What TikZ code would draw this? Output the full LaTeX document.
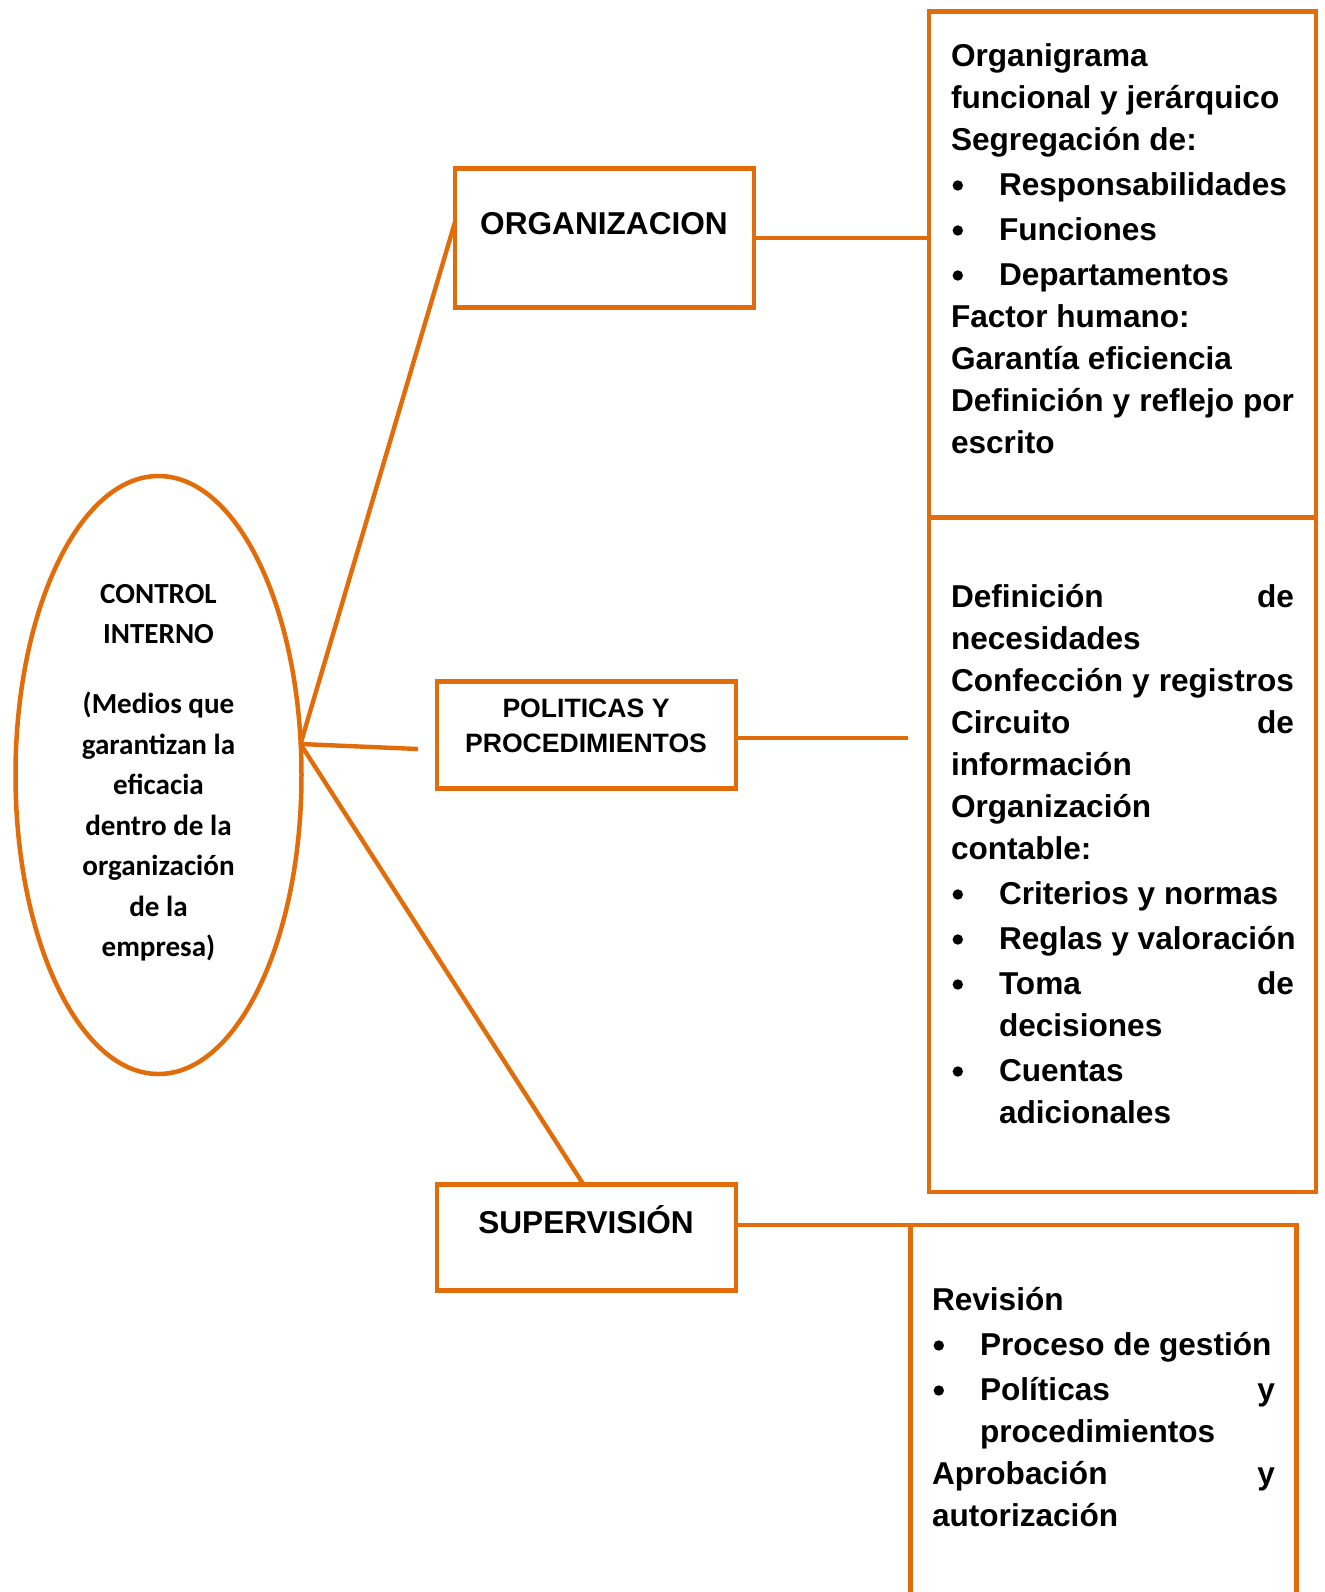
\documentclass[tikz,border=0pt]{standalone}
\usepackage{fontspec}
\setmainfont{Liberation Sans}
\newfontfamily\calibrifont{Carlito}
\usetikzlibrary{shapes.geometric}
\definecolor{orng}{RGB}{227,108,10}
\newlength\rtw \setlength\rtw{171.5pt}
\newlength\rtwb \setlength\rtwb{147.5pt}
\newcommand\plainln[1]{\makebox[\rtw][l]{#1}}
\newcommand\justln[1]{\makebox[\rtw][s]{#1}}
\newcommand\bulmark{\makebox[24pt][l]{\hspace{0.8pt}\tikz[baseline=-4.75pt]{\fill[black] (0,0) circle (2.6pt);}}}
\newcommand\bulln[1]{\bulmark\makebox[\rtwb][l]{#1}}
\newcommand\bulj[1]{\bulmark\makebox[\rtwb][s]{#1}}
\newcommand\contln[1]{\hspace*{24pt}\makebox[\rtwb][l]{#1}}
\newcommand\rtfont{\fontsize{15.8}{21}\selectfont\bfseries}
\begin{document}
\begin{tikzpicture}[x=0.5pt,y=-0.5pt,
  every node/.style={inner sep=0pt,outer sep=0pt},
  boxst/.style={draw=orng,line width=2.25pt,rectangle},
  link/.style={draw=orng,line width=2.2pt},
  lblfont/.style={font=\fontsize{15.8}{19}\selectfont\bfseries,anchor=base},
  smallfont/.style={font=\fontsize{13.3}{16}\selectfont\bfseries,anchor=base},
  rtext/.style={anchor=base west}]
\useasboundingbox (0,0) rectangle (1325,1592);
\clip (0,0) rectangle (1325,1592);
% ellipse
\node[draw=orng,line width=2.25pt,ellipse,minimum width=143pt,minimum height=299pt] (ci) at (158.5,775) {};
\node[anchor=base] (citext) at (158.5,603) {\parbox[t]{110pt}{\centering\calibrifont\fontsize{14.55}{20.25}\selectfont\bfseries
CONTROL\\INTERNO\\[14.75pt](Medios que\\garantizan la\\eficacia\\dentro de la\\organización\\de la\\empresa)}};
\coordinate (hub) at (300.5,744);
% middle boxes
\node[boxst,minimum width=149.5pt,minimum height=69.5pt] (org) at (604.5,238) {};
\node[lblfont] (orgtext) at (604,234) {ORGANIZACION};
\node[boxst,minimum width=149.5pt,minimum height=53.5pt] (pol) at (586.5,735) {};
\node[smallfont] (poltexta) at (586,717) {POLITICAS Y};
\node[smallfont] (poltextb) at (586,752) {PROCEDIMIENTOS};
\node[boxst,minimum width=149.5pt,minimum height=53pt] (sup) at (586.5,1237.5) {};
\node[lblfont] (suptext) at (586,1233) {SUPERVISIÓN};
% right boxes
\node[boxst,minimum width=193.5pt,minimum height=253pt] (box1) at (1122.5,264.5) {};
\node[boxst,minimum width=193.5pt,minimum height=337pt] (box2) at (1122.5,855) {};
\node[boxst,minimum width=193pt,minimum height=197.5pt] (box3) at (1103.5,1422.5) {};
\node[rtext] (box1text) at (951,66) {\parbox[t]{\rtw}{\rtfont
\plainln{Organigrama}\\
\plainln{funcional y jerárquico}\\
\plainln{Segregación de:}\\[1.5pt]
\bulln{Responsabilidades}\\[1.5pt]
\bulln{Funciones}\\[1.5pt]
\bulln{Departamentos}\\
\plainln{Factor humano:}\\
\plainln{Garantía eficiencia}\\
\justln{Definición y reflejo por}\\
\plainln{escrito}}};
\node[rtext] (box2text) at (951,607) {\parbox[t]{\rtw}{\rtfont
\justln{Definición de}\\
\plainln{necesidades}\\
\justln{Confección y registros}\\
\justln{Circuito de}\\
\plainln{información}\\
\plainln{Organización}\\
\plainln{contable:}\\[1.5pt]
\bulln{Criterios y normas}\\[1.5pt]
\bulln{Reglas y valoración}\\[1.5pt]
\bulj{Toma de}\\
\contln{decisiones}\\[1.5pt]
\bulln{Cuentas}\\
\contln{adicionales}}};
\node[rtext] (box3text) at (932,1310) {\parbox[t]{\rtw}{\rtfont
\plainln{Revisión}\\[1.5pt]
\bulln{Proceso de gestión}\\[1.5pt]
\bulj{Políticas y}\\
\contln{procedimientos}\\
\justln{Aprobación y}\\
\plainln{autorización}}};
% connectors
\coordinate (polend) at (418,749);
\coordinate (polr) at (908,738);
\draw[link] (hub) -- ([yshift=8pt]org.west);
\draw[link] (hub) -- (polend);
\draw[link] (hub) -- ([xshift=-1.5pt]sup.north);
\draw[link] (org.east) -- (org.east -| box1.west);
\draw[link] (pol.east |- polr) -- (polr);
\draw[link] (sup.east |- box3.north west) -- (box3.north west);
\end{tikzpicture}
\end{document}
